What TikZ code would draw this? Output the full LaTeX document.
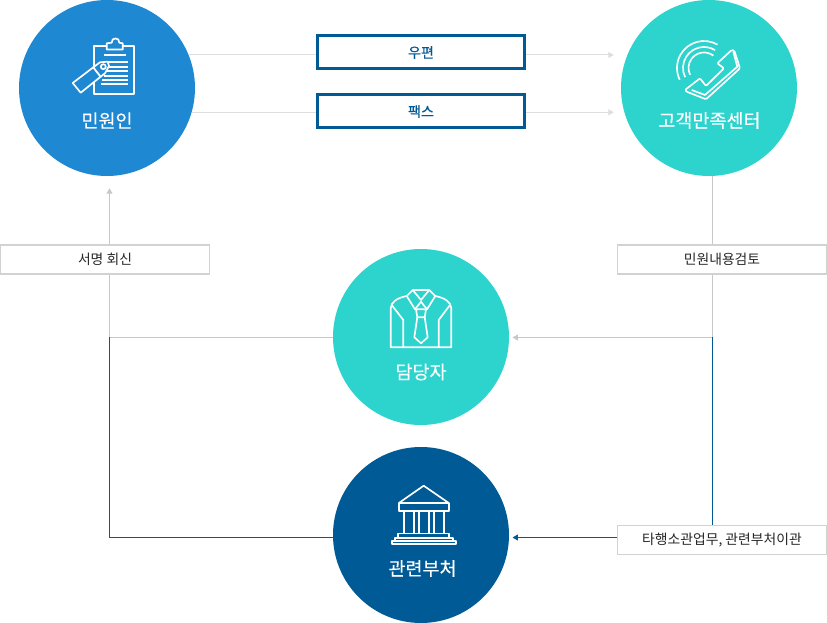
\documentclass[tikz,border=0pt]{standalone}
\usepackage{fontspec}
\setmainfont{Noto Sans CJK KR}
\newfontfamily\heavyfont[FakeBold=0.2]{Noto Sans CJK KR}
\usepackage{tikz}
\usetikzlibrary{
    arrows.meta
}

\definecolor{clientblue}{HTML}{1E88D2}
\definecolor{tealfill}{HTML}{2DD3CD}
\definecolor{navy}{HTML}{005A96}
\definecolor{linegray}{HTML}{C8C8C8}
\definecolor{palegray}{HTML}{DEDEDE}
\definecolor{boxgray}{HTML}{D2D2D2}

\tikzset{
    station/.style={circle, draw=none, inner sep=0pt, minimum size=176*0.03cm},
    stationlabel/.style={text=white, font=\heavyfont\fontsize{15.8}{18}\selectfont, inner sep=0pt},
    channel/.style={draw=navy, line width=0.09cm, fill=white, inner sep=0pt,
        minimum width=207*0.03cm, minimum height=33*0.03cm,
        text=navy, font=\heavyfont\fontsize{12}{14}\selectfont},
    stepnote/.style={draw=boxgray, line width=0.04cm, fill=white, inner sep=0pt,
        minimum width=209*0.03cm, minimum height=29*0.03cm,
        text=black!85, font=\fontsize{11.8}{13}\selectfont},
    tip/.style={-{Triangle[length=4.5pt,width=5pt]}},
    paleline/.style={draw=palegray, line width=0.03cm},
    grayline/.style={draw=linegray, line width=0.03cm},
    navyline/.style={draw=navy, line width=0.03cm},
    icon/.style={draw=white, line width=0.05cm, line join=round}
}

\begin{document}
\begin{tikzpicture}[x=0.03cm, y=-0.03cm]

\useasboundingbox (0,0) rectangle (827,623);

% Stations
\node[station, fill=clientblue] (client) at (107,88) {};
\node[station, fill=tealfill] (center) at (709,88) {};
\node[station, fill=tealfill] (officer) at (421,337) {};
\node[station, fill=navy] (agency) at (421,535) {};

\node[stationlabel] (clientlabel) at (107,120.5) {민원인};
\node[stationlabel] (centerlabel) at (709.5,120.5) {고객만족센터};
\node[stationlabel] (officerlabel) at (421,372) {담당자};
\node[stationlabel] (agencylabel) at (422.5,568.5) {관련부처};

% Channels
\node[channel] (mail) at (421,52.5) {우편};
\node[channel] (fax) at (421,111.5) {팩스};

% Notes
\node[stepnote] (sign) at (105,259.5) {서명 회신};
\node[stepnote] (review) at (722,259.5) {민원내용검토};
\node[stepnote] (transfer) at (722,540) {타행소관업무, 관련부처이관};

% Corners
\coordinate (signcorner) at (109.5,337.5);
\coordinate (signbottom) at (109.5,537.5);
\coordinate (reviewcorner) at (712.5,337.5);

% Top row
\draw[paleline] (client.22.4) -- (client.22.4 -| mail.west);
\draw[paleline, tip, shorten >=0.21cm] (client.22.4 -| mail.east) -- (client.22.4 -| center.west);
\draw[paleline] (client.-16) -- (client.-16 -| fax.west);
\draw[paleline, tip, shorten >=0.21cm] (client.-16 -| fax.east) -- (client.-16 -| center.west);

% Review branch
\draw[grayline] (center.south -| reviewcorner) -- (review.north -| reviewcorner);
\draw[grayline] (review.south -| reviewcorner) -- (reviewcorner);
\draw[grayline, tip, shorten >=0.1cm] (reviewcorner) -- (officer.east |- reviewcorner);
\draw[navyline] (reviewcorner) -- (transfer.north -| reviewcorner);
\draw[navyline, tip, shorten >=0.1cm] (transfer.west |- signbottom) -- (agency.east |- signbottom);

% Reply branch
\draw[grayline] (officer.west |- signcorner) -- (signcorner) -- (sign.south -| signcorner);
\draw[grayline, tip, shorten >=0.36cm] (sign.north -| signcorner) -- (client.south -| signcorner);
\draw[navyline] (signcorner) -- (signbottom) -- (agency.west |- signbottom);

% Clipboard icon
\draw[icon] (94,46) rectangle (134,94);
\draw[icon, fill=clientblue] (106.7,49.5) -- (106.7,43.3) -- (111.7,42.7) .. controls (111,37) and (120,37) .. (119.3,42.7)
    -- (122.7,43.3) -- (122.7,49.5) -- cycle;
\draw[icon] (104,55) -- (126,55);
\foreach \liney/\linex in {62/108, 67/108, 71/106, 76/104, 80/102, 84/101}
    \draw[icon] (\linex,\liney) -- (128,\liney);
\draw[icon, fill=clientblue] (72.7,83) -- (80.7,92.7) -- (100.7,76.7) -- (93.3,67.3) -- cycle;
\draw[icon, fill=clientblue] (93.3,67.3) -- (100,62.3) -- (107.7,61.7) -- (109,66) -- (105,73.3) -- (100.7,76.7) -- cycle;
\draw[icon] (103.3,66.7) circle (2.5);

% Phone icon
\draw[icon] (704,68) ++(-60:27) arc (-60:-206:27);
\draw[icon] (704,68) ++(-58:21) arc (-58:-206:21);
\draw[icon] (704,68) ++(-53:15.5) arc (-53:-206:15.5);
\draw[icon, rounded corners=1pt] (685,90) -- (700,78.3) -- (706,86) -- (724,68.3) -- (717.3,63.3) -- (731.7,50)
    -- (734.3,50.7) -- (740,68.3) -- (706,99.3) -- (686.7,91.7) -- cycle;
\draw[icon] (691.7,90) -- (705,95) -- (737.3,66.7) -- (733.3,51.7);

% Shirt icon
\draw[icon] (406.7,296) .. controls (397,298) and (391,302) .. (390.7,308.3) -- (390.7,347.3) -- (451.3,347.3)
    -- (451.3,308.3) .. controls (451,302) and (445,298) .. (435.3,296);
\draw[icon] (406.7,296) -- (412.7,290) -- (429.3,290) -- (435.3,296);
\draw[icon] (412.7,290) -- (421,300) -- (429.3,290);
\draw[icon] (406.7,296) -- (415,309.3) -- (421,301.7) -- (427,309.3) -- (435.3,296);
\draw[icon] (416,309.3) -- (426,309.3) -- (424.7,317.3) -- (417.3,317.3) -- cycle;
\draw[icon] (417.3,317.3) -- (414.3,337.3) -- (421,343.3) -- (427.7,337.3) -- (424.7,317.3);
\draw[icon] (391.7,305) -- (403.3,320) -- (403.3,347.3);
\draw[icon] (450,305) -- (438.7,320) -- (438.7,347.3);

% Building icon
\draw[icon] (399.3,502.7) -- (423.7,485.7) -- (448.3,502.7);
\draw[icon] (398.7,502.7) rectangle (448.7,510.7);
\draw[icon] (404,510.7) -- (404,533.5);
\draw[icon] (443.7,510.7) -- (443.7,533.5);
\draw[icon] (414,510.7) rectangle (419,533.5);
\draw[icon] (428.7,510.7) rectangle (434,533.5);
\draw[icon] (398.3,533.5) rectangle (449.3,537.7);
\draw[icon] (395,537.7) rectangle (452.7,541);
\draw[icon] (392.3,541) rectangle (456,544.3);

\end{tikzpicture}
\end{document}
